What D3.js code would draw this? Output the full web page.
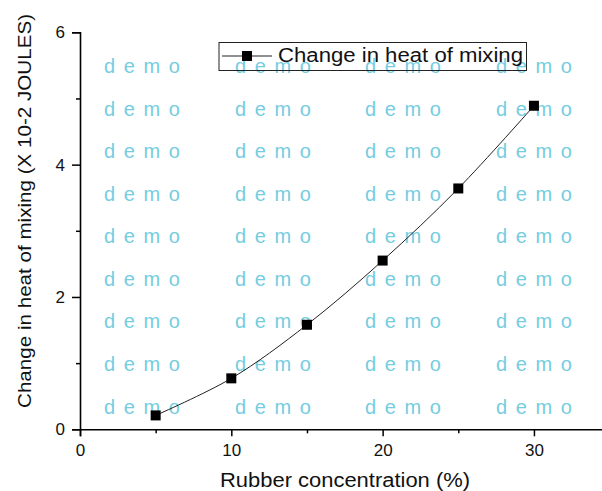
<!DOCTYPE html>
<html>
<head>
<meta charset="utf-8">
<script src="https://cdn.jsdelivr.net/npm/d3@7"></script>
<style>
  body { margin: 0; background: #fff; }
  svg { display: block; font-family: "Liberation Sans", Arial, sans-serif; }
</style>
</head>
<body>
<svg id="chart" width="602" height="491"></svg>
<script>
// data
const concentration = [5, 10, 15, 20, 25, 30];
const heatOfMixing = [0.21, 0.77, 1.58, 2.55, 3.64, 4.89];
const xTicks = [0, 10, 20, 30];
const xMinorTicks = [5, 15, 25];
const yTicks = [0, 2, 4, 6];
const yMinorTicks = [1, 3, 5];
const seriesName = "Change in heat of mixing";
const xTitle = "Rubber concentration (%)";
const yTitle = "Change in heat of mixing (X 10-2 JOULES)";

const svg = d3.select("#chart");

const x = d3.scaleLinear().domain([0, 35]).range([80, 609.6]);
const y = d3.scaleLinear().domain([0, 6]).range([429.3, 32.3]);

// watermark grid
const wmCols = [104, 235, 365, 496];
const wmRows = [67, 109.5, 152, 194.5, 237, 280, 322, 365, 407.5];
const wm = svg.append("g").attr("class", "watermark");
for (const r of wmRows) {
    for (const c of wmCols) {
        wm.append("text")
            .attr("x", c)
            .attr("y", r + 6)
            .attr("font-size", 20)
            .attr("letter-spacing", 8.6)
            .attr("fill", "#75cde0")
            .text("demo");
    }
}

// axes
svg.append("g")
    .attr("transform", `translate(0,${y(0)})`)
    .call(d3.axisBottom(x).tickValues(xTicks).tickSize(7).tickPadding(8).tickFormat(d3.format("d")));
svg.append("g")
    .attr("transform", `translate(0,${y(0)})`)
    .call(d3.axisBottom(x).tickValues(xMinorTicks).tickSize(4).tickFormat(""))
    .select(".domain").remove();

svg.append("g")
    .attr("transform", `translate(${x(0)},0)`)
    .call(d3.axisLeft(y).tickValues(yTicks).tickSize(8).tickPadding(7).tickFormat(d3.format("d")));
svg.append("g")
    .attr("transform", `translate(${x(0)},0)`)
    .call(d3.axisLeft(y).tickValues(yMinorTicks).tickSize(4).tickFormat(""))
    .select(".domain").remove();

svg.selectAll(".domain").attr("stroke-width", 1.6);
svg.selectAll(".tick line").attr("stroke-width", 1.5);
svg.selectAll(".tick text")
    .attr("font-size", 17)
    .attr("font-family", "Liberation Sans, Arial, sans-serif")
    .attr("fill", "#111");

// axis titles
svg.append("text")
    .attr("x", 345)
    .attr("y", 487)
    .attr("text-anchor", "middle")
    .attr("font-size", 20)
    .attr("fill", "#111")
    .attr("textLength", 250)
    .attr("lengthAdjust", "spacingAndGlyphs")
    .text(xTitle);

svg.append("text")
    .attr("transform", "translate(31,211) rotate(-90)")
    .attr("text-anchor", "middle")
    .attr("font-size", 19)
    .attr("fill", "#111")
    .attr("textLength", 394)
    .attr("lengthAdjust", "spacingAndGlyphs")
    .text(yTitle);

// series
const points = concentration.map((c, i) => [c, heatOfMixing[i]]);
const line = d3.line()
    .x(d => x(d[0]))
    .y(d => y(d[1]))
    .curve(d3.curveCatmullRom);

svg.append("path")
    .datum(points)
    .attr("fill", "none")
    .attr("stroke", "#222")
    .attr("stroke-width", 1)
    .attr("d", line);

svg.append("g")
    .selectAll("rect")
    .data(points)
    .join("rect")
    .attr("x", d => x(d[0]) - 5)
    .attr("y", d => y(d[1]) - 5)
    .attr("width", 10)
    .attr("height", 10)
    .attr("fill", "#000");

// legend
const legend = svg.append("g");
legend.append("rect")
    .attr("x", 219)
    .attr("y", 42.5)
    .attr("width", 307.5)
    .attr("height", 28)
    .attr("fill", "none")
    .attr("stroke", "#222")
    .attr("stroke-width", 1);
legend.append("line")
    .attr("x1", 222).attr("x2", 272)
    .attr("y1", 56).attr("y2", 56)
    .attr("stroke", "#222");
legend.append("rect")
    .attr("x", 242).attr("y", 51)
    .attr("width", 10).attr("height", 10)
    .attr("fill", "#000");
legend.append("text")
    .attr("x", 278)
    .attr("y", 62)
    .attr("font-size", 20)
    .attr("fill", "#111")
    .attr("textLength", 245)
    .attr("lengthAdjust", "spacingAndGlyphs")
    .text(seriesName);
</script>
</body>
</html>
